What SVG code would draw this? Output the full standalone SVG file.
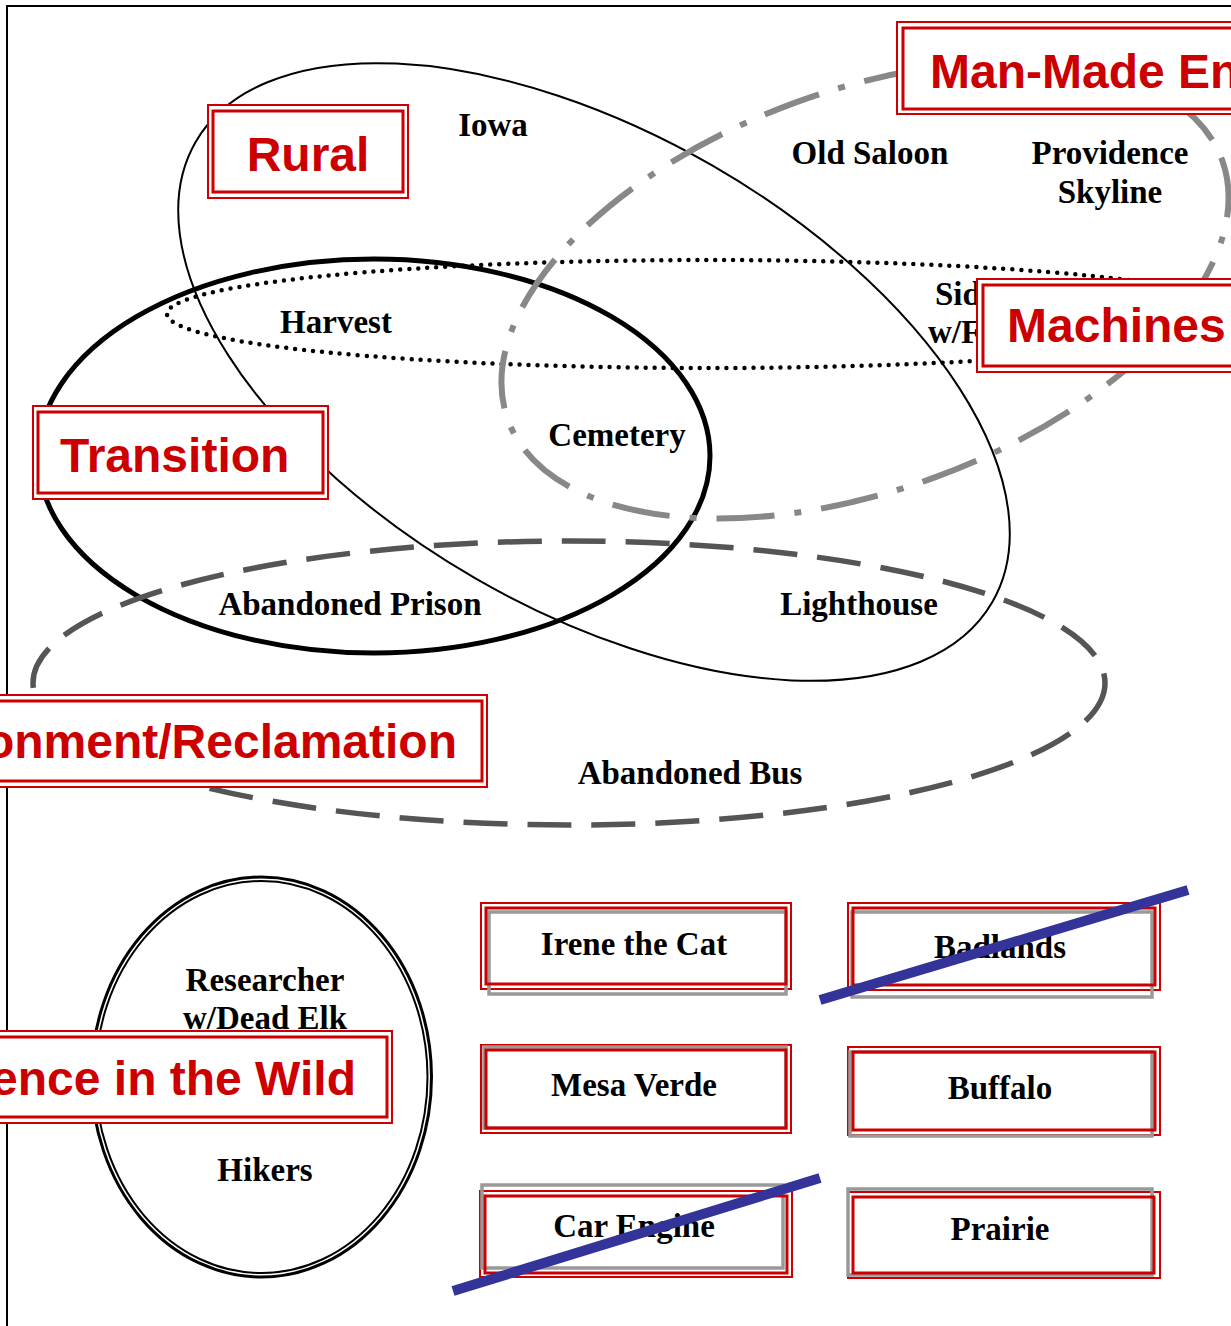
<svg xmlns="http://www.w3.org/2000/svg" width="1231" height="1326" viewBox="0 0 1231 1326">
<style>
.lbl{font-family:"Liberation Serif","Times New Roman",serif;font-weight:bold;font-size:33px;fill:#000;text-anchor:middle}
.cat{font-family:"Liberation Sans",Arial,sans-serif;font-weight:bold;font-size:48px;fill:#cc0000}
.ro{fill:#fff;stroke:#cc0000;stroke-width:2}
.ri{fill:none;stroke:#cc0000;stroke-width:3}
.gr{fill:none;stroke:#999;stroke-width:3.5}
.strike{stroke:#333399;stroke-width:10;fill:none}
</style>
<rect x="0" y="0" width="1231" height="1326" fill="#fff"/>
<g id="frame" fill="none" stroke="#000" stroke-width="2">
<path d="M7,1326 V6 H1231"/>
</g>
<g id="connectors">
<ellipse id="harvest-set" cx="708" cy="314" rx="541" ry="54" fill="none" stroke="#000" stroke-width="4.5" stroke-dasharray="0 9" stroke-linecap="round"/>
<ellipse id="rural-set" cx="594" cy="372" rx="460" ry="238" transform="rotate(30 594 372)" fill="none" stroke="#000" stroke-width="2"/>
<ellipse id="transition-set" cx="374" cy="456" rx="336" ry="197" fill="none" stroke="#000" stroke-width="5"/>
<ellipse id="manmade-set" cx="865" cy="290" rx="380" ry="200" transform="rotate(-20 865 290)" fill="none" stroke="#888" stroke-width="6" stroke-dasharray="58 20 7 20"/>
<ellipse id="reclamation-set" cx="569" cy="683" rx="536" ry="142" fill="none" stroke="#555" stroke-width="5.5" stroke-dasharray="44 20"/>
<ellipse cx="261.5" cy="1077" rx="170" ry="200" fill="none" stroke="#000" stroke-width="3"/>
<ellipse cx="261.5" cy="1077" rx="166" ry="196" fill="none" stroke="#000" stroke-width="2"/>
</g>
<g id="items">
<text class="lbl" x="493" y="136">Iowa</text>
<text class="lbl" x="870" y="164">Old Saloon</text>
<text class="lbl" x="1110" y="164">Providence</text>
<text class="lbl" x="1110" y="203">Skyline</text>
<text class="lbl" x="935" y="305" style="text-anchor:start">Sid</text>
<text class="lbl" x="928" y="343" style="text-anchor:start">w/F</text>
<text class="lbl" x="336" y="333">Harvest</text>
<text class="lbl" x="617" y="446">Cemetery</text>
<text class="lbl" x="350" y="615">Abandoned Prison</text>
<text class="lbl" x="859" y="615">Lighthouse</text>
<text class="lbl" x="690" y="784">Abandoned Bus</text>
<text class="lbl" x="265" y="991">Researcher</text>
<text class="lbl" x="265" y="1029">w/Dead Elk</text>
<text class="lbl" x="265" y="1181">Hikers</text>
</g>
<g id="label-rural">
<rect class="ro" x="208" y="105" width="200" height="93"/>
<rect class="ri" x="213" y="111" width="190" height="81"/>
<text class="cat" x="308" y="171" text-anchor="middle">Rural</text>
</g>
<g id="label-manmade">
<rect class="ro" x="897" y="22" width="340" height="92"/>
<rect class="ri" x="903" y="28" width="340" height="81"/>
<text class="cat" x="930" y="88">Man-Made En</text>
</g>
<g id="label-machines">
<rect class="ro" x="977" y="279" width="260" height="93"/>
<rect class="ri" x="983" y="285" width="260" height="81"/>
<text class="cat" x="1007" y="342">Machines</text>
</g>
<g id="label-transition">
<rect class="ro" x="33" y="406" width="295" height="93"/>
<rect class="ri" x="38" y="412" width="285" height="81"/>
<text class="cat" x="60" y="472">Transition</text>
</g>
<g id="label-reclamation">
<rect class="ro" x="-10" y="695" width="497" height="92"/>
<rect class="ri" x="-10" y="701" width="492" height="80"/>
<text class="cat" x="457" y="758" text-anchor="end">onment/Reclamation</text>
</g>
<g id="label-wild">
<rect class="ro" x="-10" y="1031" width="402" height="92"/>
<rect class="ri" x="-10" y="1037" width="397" height="80"/>
<text class="cat" x="356" y="1095" text-anchor="end">ence in the Wild</text>
</g>
<g id="box-irene">
<rect class="ro" x="481" y="903" width="310" height="86"/>
<rect class="gr" x="489" y="912" width="297" height="82"/>
<rect class="ri" x="486" y="908" width="300" height="76"/>
<text class="lbl" x="634" y="955">Irene the Cat</text>
</g>
<g id="box-badlands">
<rect class="ro" x="848" y="903" width="312" height="87"/>
<rect class="gr" x="852" y="912" width="300" height="85"/>
<rect class="ri" x="853" y="908" width="302" height="77"/>
<text class="lbl" x="1000" y="958">Badlands</text>
</g>
<g id="box-mesa">
<rect class="ro" x="481" y="1045" width="310" height="88"/>
<rect class="gr" x="484" y="1047" width="302" height="81"/>
<rect class="ri" x="486" y="1050" width="300" height="78"/>
<text class="lbl" x="634" y="1096">Mesa Verde</text>
</g>
<g id="box-buffalo">
<rect class="ro" x="848" y="1047" width="312" height="88"/>
<rect class="gr" x="850" y="1052" width="302" height="84"/>
<rect class="ri" x="853" y="1052" width="302" height="78"/>
<text class="lbl" x="1000" y="1099">Buffalo</text>
</g>
<g id="box-carengine">
<rect class="ro" x="480" y="1191" width="312" height="86"/>
<rect class="gr" x="482" y="1185" width="301" height="83"/>
<rect class="ri" x="485" y="1196" width="302" height="77"/>
<text class="lbl" x="634" y="1237">Car Engine</text>
</g>
<g id="box-prairie">
<rect class="ro" x="848" y="1192" width="312" height="86"/>
<rect class="gr" x="848" y="1189" width="304" height="86"/>
<rect class="ri" x="853" y="1197" width="301" height="76"/>
<text class="lbl" x="1000" y="1240">Prairie</text>
</g>
<g id="strikes">
<line class="strike" x1="820" y1="1000" x2="1188" y2="890"/>
<line class="strike" x1="453" y1="1291" x2="820" y2="1178"/>
</g>
</svg>
